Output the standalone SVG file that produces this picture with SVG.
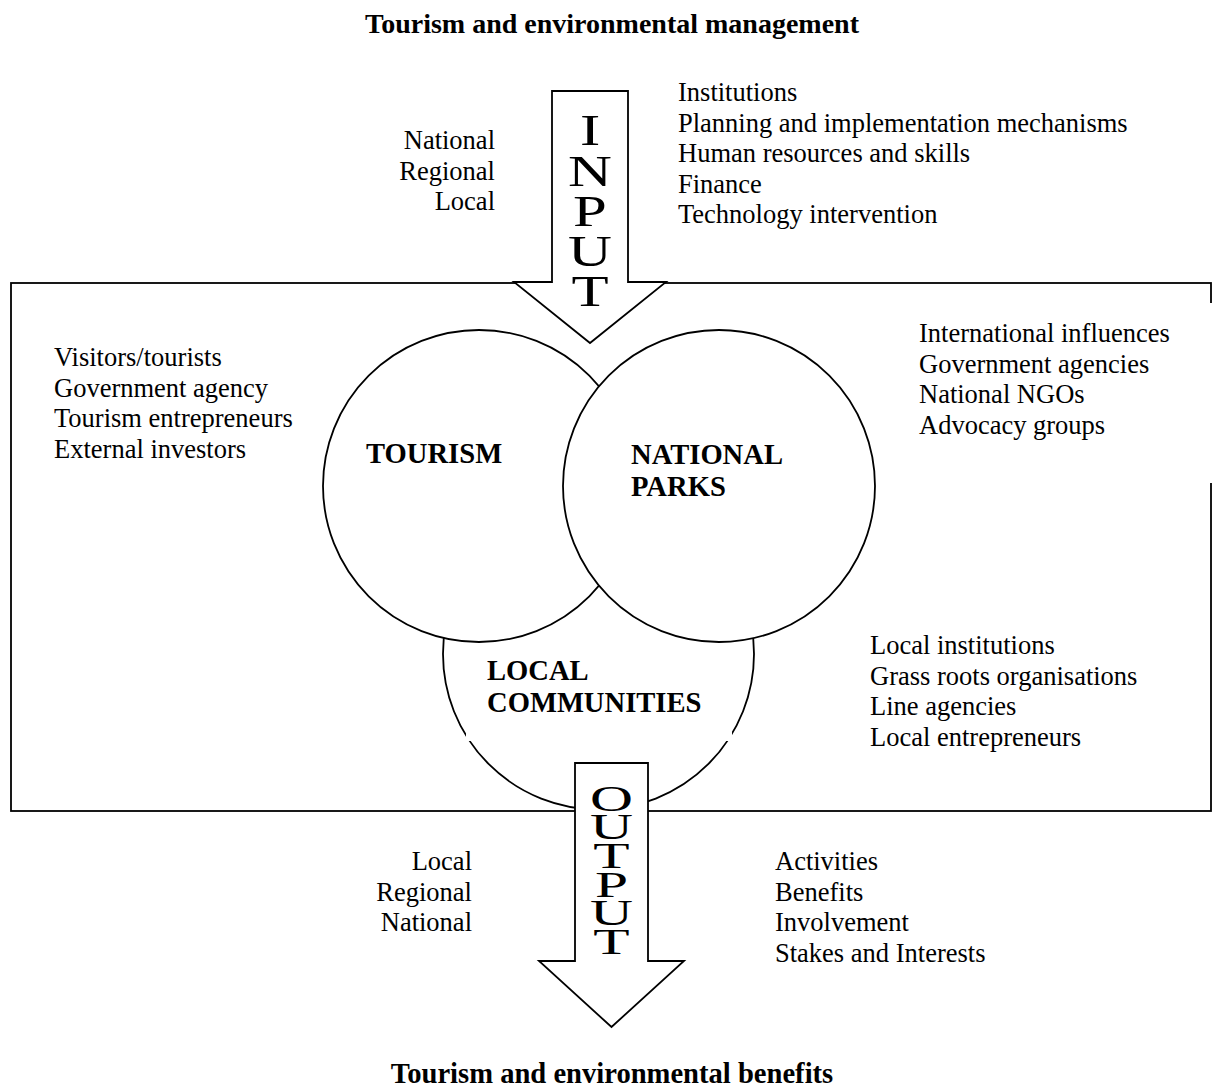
<svg xmlns="http://www.w3.org/2000/svg" width="1214" height="1090" viewBox="0 0 1214 1090">
  <style>
    .txt{font-family:"Liberation Serif","Times New Roman",serif;font-size:26.5px;fill:#000}
    .bold{font-family:"Liberation Serif","Times New Roman",serif;font-weight:bold;font-size:28.6px;fill:#000}
    .end{text-anchor:end}
    .mid{text-anchor:middle}
    .shape{fill:#fff;stroke:#000;stroke-width:1.8}
    .cover{fill:#fff;stroke:none}
    .vert{font-family:"Liberation Serif","Times New Roman",serif;writing-mode:vertical-rl;text-orientation:upright;fill:#000}
  </style>
  <rect width="1214" height="1090" fill="#fff"/>

  <!-- heading -->
  <text class="bold mid" x="612" y="33" style="font-size:28px">Tourism and environmental management</text>

  <!-- system boundary -->
  <g id="boundary">
    <rect class="shape" x="11" y="283" width="1200" height="528"/>
    <rect class="cover" x="905" y="303" width="309" height="180"/>
  </g>

  <!-- stakeholder lists -->
  <g id="tourism-actors" class="txt">
    <text x="54" y="366">Visitors/tourists</text>
    <text x="54" y="396.5">Government agency</text>
    <text x="54" y="427">Tourism entrepreneurs</text>
    <text x="54" y="457.5">External investors</text>
  </g>
  <g id="park-actors" class="txt">
    <text x="919" y="342">International influences</text>
    <text x="919" y="372.5">Government agencies</text>
    <text x="919" y="403">National NGOs</text>
    <text x="919" y="433.5">Advocacy groups</text>
  </g>
  <g id="community-actors" class="txt">
    <text x="870" y="654">Local institutions</text>
    <text x="870" y="684.5">Grass roots organisations</text>
    <text x="870" y="715">Line agencies</text>
    <text x="870" y="745.5">Local entrepreneurs</text>
  </g>

  <!-- local communities (drawn first, partly hidden by the two upper circles) -->
  <g id="local-communities">
    <circle class="shape" cx="598.5" cy="654" r="155.5"/>
    <rect class="cover" x="466" y="645" width="266" height="96"/>
    <text class="bold" x="487" y="680">LOCAL</text>
    <text class="bold" x="487" y="711.7">COMMUNITIES</text>
  </g>

  <g id="tourism">
    <circle class="shape" cx="479" cy="486" r="156"/>
    <text class="bold" x="366" y="463">TOURISM</text>
  </g>

  <g id="national-parks">
    <circle class="shape" cx="719" cy="486" r="156"/>
    <text class="bold" x="631" y="464">NATIONAL</text>
    <text class="bold" x="631" y="495.7">PARKS</text>
  </g>

  <!-- flows in and out -->
  <g id="connectors">
    <g id="input">
      <path class="shape" d="M552,91 H628 V282 H666 L590,343 L514,282 H552 Z"/>
      <g transform="translate(590,0) scale(1.35,1)">
        <text class="vert" style="font-size:45px;letter-spacing:-10.3px" x="0" y="105">INPUT</text>
      </g>
    </g>
    <g id="output">
      <path class="shape" d="M575,763 H648 V961 H684 L611.5,1027 L539,961 H575 Z"/>
      <g transform="translate(611.5,0) scale(1.7,1)">
        <text class="vert" style="font-size:35px;letter-spacing:-10.1px" x="0" y="780">OUTPUT</text>
      </g>
    </g>
  </g>

  <!-- input scales and resources -->
  <g id="input-scales" class="txt end">
    <text x="495" y="149">National</text>
    <text x="495" y="179.5">Regional</text>
    <text x="495" y="210">Local</text>
  </g>
  <g id="input-resources" class="txt">
    <text x="678" y="101.2">Institutions</text>
    <text x="678" y="131.7">Planning and implementation mechanisms</text>
    <text x="678" y="162.2">Human resources and skills</text>
    <text x="678" y="192.7">Finance</text>
    <text x="678" y="223.2">Technology intervention</text>
  </g>

  <!-- output scales and results -->
  <g id="output-scales" class="txt end">
    <text x="472" y="870">Local</text>
    <text x="472" y="900.5">Regional</text>
    <text x="472" y="931">National</text>
  </g>
  <g id="output-results" class="txt">
    <text x="775" y="870">Activities</text>
    <text x="775" y="900.5">Benefits</text>
    <text x="775" y="931">Involvement</text>
    <text x="775" y="961.5">Stakes and Interests</text>
  </g>

  <!-- closing heading -->
  <text class="bold mid" x="612" y="1083">Tourism and environmental benefits</text>
</svg>
